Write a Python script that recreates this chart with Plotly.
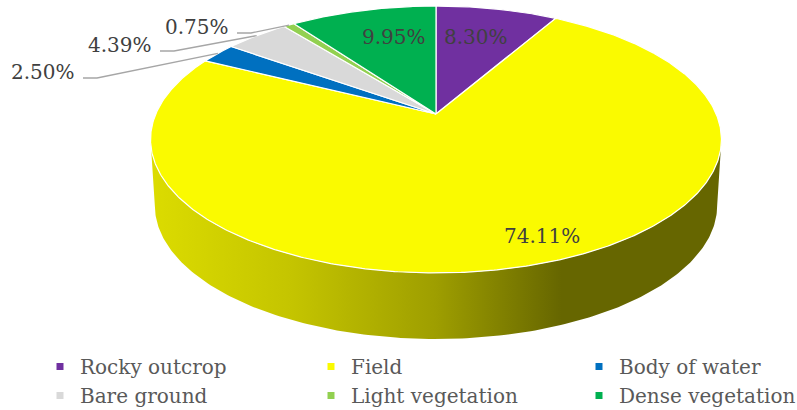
import numpy as np
import plotly.graph_objects as go

# ---- data ----
categories = ["Rocky outcrop", "Field", "Body of water",
              "Bare ground", "Light vegetation", "Dense vegetation"]
values = [8.30, 74.11, 2.50, 4.39, 0.75, 9.95]
colors = ["#7030A0", "#FAFA00", "#0070C0", "#D9D9D9", "#92D050", "#00B050"]

# ---- 3D pie projection (perspective view of a tilted disk, in pixel units) ----
CX, CY0 = 436.0, 114.0      # projected centre of disk
A, B, K = 128.6, 280.2, 0.191
DEPTH, SHRINK = 66.0, 0.985


def proj(theta_deg, r=1.0):
    t = np.radians(theta_deg)
    X = r * np.sin(t)
    Y = r * np.cos(t)
    w = 1 + K * Y
    return CX + B * X / w, CY0 - A * Y / w


total = sum(values)
starts = np.concatenate([[0], np.cumsum(values)[:-1]]) / total * 360
ends = np.cumsum(values) / total * 360
mids = (starts + ends) / 2

fig = go.Figure()

# side wall (front, visible part)
th_r = np.degrees(np.arccos(-K))
th_l = 360 - th_r
arc = np.linspace(th_r, th_l, 200)
tx, ty = proj(arc)
bx = CX + (tx - CX) * SHRINK
by = ty + DEPTH
sx = np.concatenate([tx, bx[::-1], tx[:1]])
sy = np.concatenate([ty, by[::-1], ty[:1]])
fig.add_trace(go.Scatter(
    x=sx, y=sy, mode="lines", fill="toself",
    line=dict(width=0, color="rgba(0,0,0,0)"),
    fillgradient=dict(type="horizontal",
                      colorscale=[[0, "#DCDC00"], [0.25, "#C4C400"],
                                  [0.5, "#9E9E00"], [0.72, "#666600"],
                                  [1, "#666600"]]),
    hoverinfo="skip", showlegend=False))

# top face slices
for cat, s, e, c in zip(categories, starts, ends, colors):
    n = max(int((e - s) * 2), 4)
    th = np.linspace(s, e, n)
    px, py = proj(th)
    xs = np.concatenate([[CX], px, [CX]])
    ys = np.concatenate([[CY0], py, [CY0]])
    fig.add_trace(go.Scatter(
        x=xs, y=ys, mode="lines", fill="toself", fillcolor=c,
        line=dict(color="white", width=1.2),
        name=cat, legendgroup=cat, showlegend=False, hoverinfo="name"))

# legend entries (small squares), three columns of two rows
legend_ids = ["legend", "legend2", "legend3", "legend", "legend2", "legend3"]
for cat, c, lg in zip(categories, colors, legend_ids):
    fig.add_trace(go.Scatter(
        x=[None], y=[None], mode="markers",
        marker=dict(symbol="square", size=7, color=c),
        name=cat, legendgroup=cat, showlegend=True, legend=lg))

# ---- data labels ----
label_text = [f"{v:.2f}%" for v in values]
# label placement: (x, y, xanchor, outside?)
label_place = [
    (476, 37, "center", False),
    (542, 236, "center", False),
    (77, 72, "right", True),
    (154, 45, "right", True),
    (231, 27, "right", True),
    (394, 37, "center", False),
]
annotations = []
for txt, m, (lx, ly, anc, outside) in zip(label_text, mids, label_place):
    annotations.append(dict(
        x=lx, y=ly, xref="x", yref="y", text=txt, showarrow=False,
        xanchor=anc, yanchor="middle",
        font=dict(family="DejaVu Serif", size=20, color="#404040")))
    if outside:
        ex, ey = proj(m)
        fig.add_trace(go.Scatter(
            x=[lx + 6, lx + 20, float(ex)], y=[ly + 6, ly + 6, float(ey)],
            mode="lines", line=dict(color="#A6A6A6", width=1.3),
            hoverinfo="skip", showlegend=False))

leg_font = dict(family="DejaVu Serif", size=20, color="#595959")
leg_common = dict(orientation="v", xanchor="left", yanchor="top",
                  y=1 - 347 / 410, font=leg_font, bgcolor="rgba(0,0,0,0)",
                  traceorder="normal")

fig.update_layout(
    width=797, height=410,
    margin=dict(l=0, r=0, t=0, b=0, autoexpand=False),
    paper_bgcolor="white", plot_bgcolor="white",
    xaxis=dict(range=[0, 797], visible=False, fixedrange=True),
    yaxis=dict(range=[410, 0], visible=False, fixedrange=True),
    annotations=annotations,
    legend=dict(x=40 / 797, **leg_common),
    legend2=dict(x=311 / 797, **leg_common),
    legend3=dict(x=579 / 797, **leg_common),
    showlegend=True,
)

fig.write_html("out.html", config={"displayModeBar": False},
               post_script="document.body.style.margin='0px';")
